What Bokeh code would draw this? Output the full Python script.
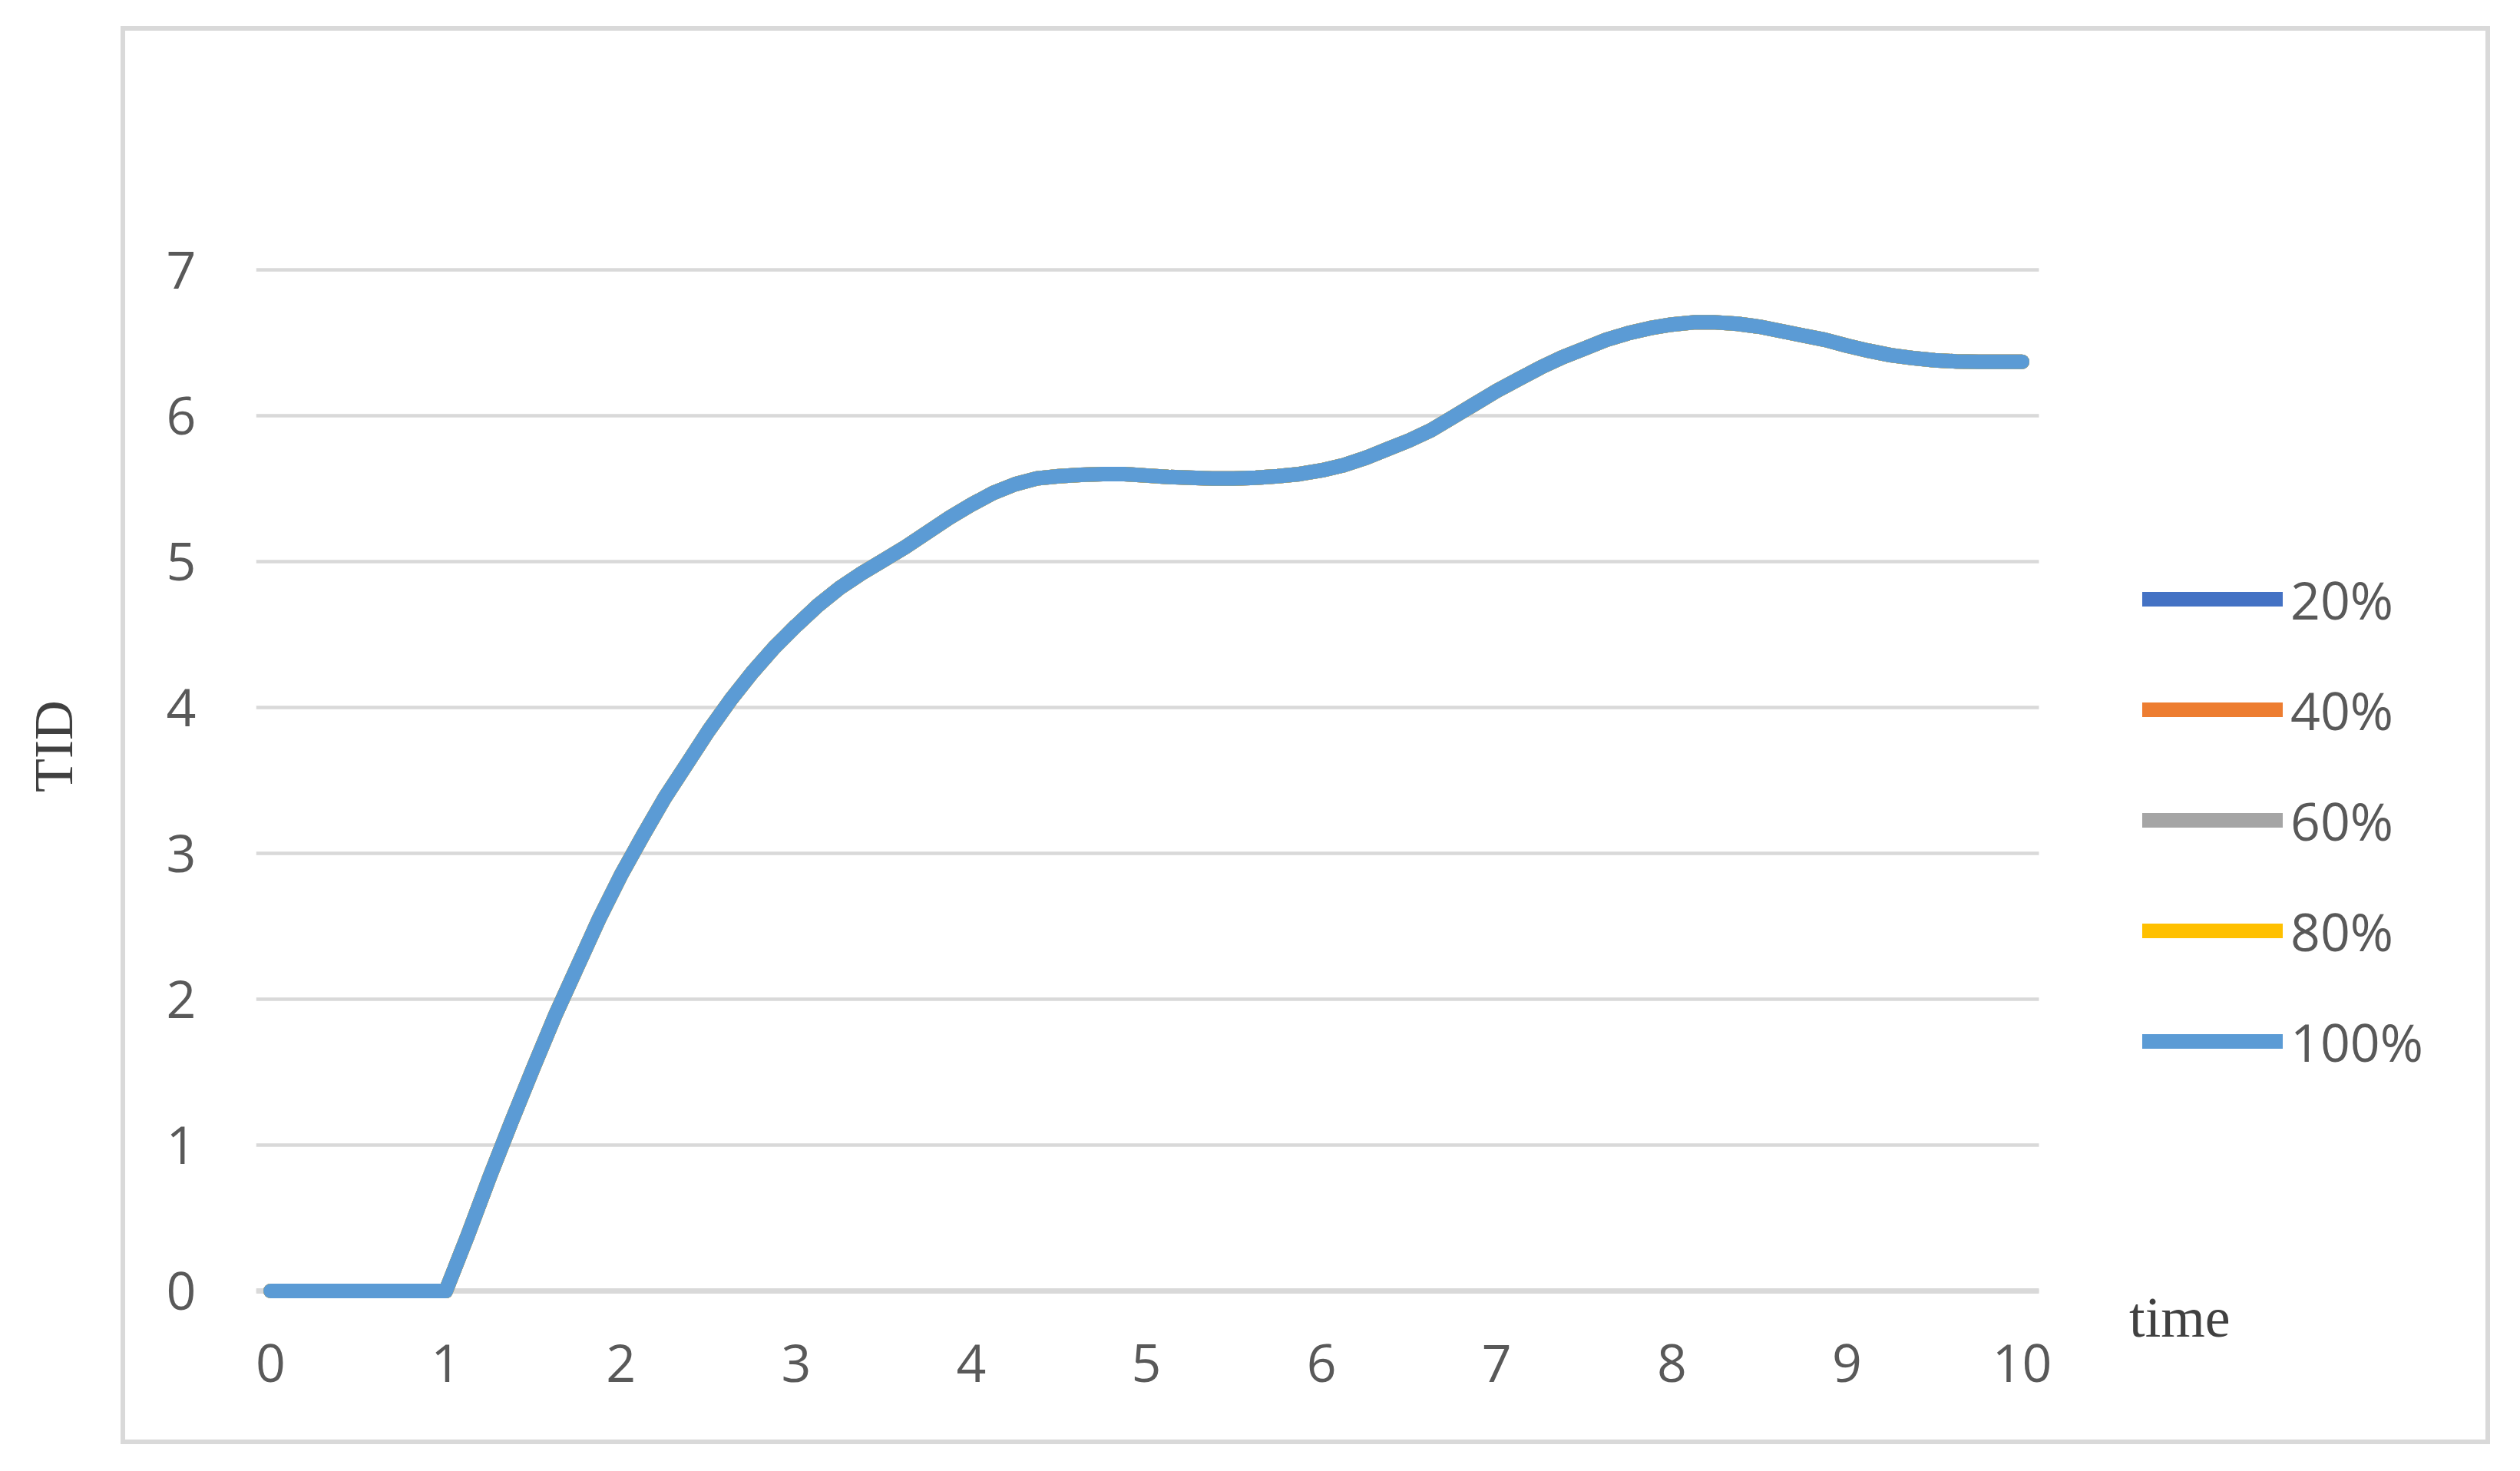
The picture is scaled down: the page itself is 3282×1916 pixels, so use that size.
from bokeh.plotting import figure
from bokeh.models import Range1d, FixedTicker, Legend, LegendItem, Label
from bokeh.embed import file_html
from bokeh.resources import INLINE

# ---------------- data ----------------
time_values = [0.0, 0.125, 0.25, 0.375, 0.5, 0.625, 0.75, 0.875,
               1.0, 1.125, 1.25, 1.375, 1.5, 1.625, 1.75, 1.875,
               2.0, 2.125, 2.25, 2.375, 2.5, 2.625, 2.75, 2.875,
               3.0, 3.125, 3.25, 3.375, 3.5, 3.625, 3.75, 3.875,
               4.0, 4.125, 4.25, 4.375, 4.5, 4.625, 4.75, 4.875,
               5.0, 5.125, 5.25, 5.375, 5.5, 5.625, 5.75, 5.875,
               6.0, 6.125, 6.25, 6.375, 6.5, 6.625, 6.75, 6.875,
               7.0, 7.125, 7.25, 7.375, 7.5, 7.625, 7.75, 7.875,
               8.0, 8.125, 8.25, 8.375, 8.5, 8.625, 8.75, 8.875,
               9.0, 9.125, 9.25, 9.375, 9.5, 9.625, 9.75, 9.875, 10.0]

tid_100 = [0, 0, 0, 0, 0, 0, 0, 0,
           0, 0.38, 0.78, 1.16, 1.53, 1.89, 2.22, 2.55,
           2.85, 3.12, 3.38, 3.61, 3.84, 4.05, 4.24, 4.41,
           4.56, 4.70, 4.82, 4.92, 5.01, 5.10, 5.20, 5.30,
           5.39, 5.47, 5.53, 5.57, 5.585, 5.595, 5.60, 5.60,
           5.59, 5.58, 5.575, 5.57, 5.57, 5.575, 5.585, 5.60,
           5.625, 5.66, 5.71, 5.77, 5.83, 5.90, 5.99, 6.08,
           6.17, 6.25, 6.33, 6.40, 6.46, 6.52, 6.565, 6.60,
           6.625, 6.64, 6.64, 6.63, 6.61, 6.58, 6.55, 6.52,
           6.48, 6.445, 6.415, 6.395, 6.38, 6.372, 6.37, 6.37, 6.37]
# the five series lie on top of one another in the reference
tid_20 = list(tid_100)
tid_40 = list(tid_100)
tid_60 = list(tid_100)
tid_80 = list(tid_100)

series_labels = ["20%", "40%", "60%", "80%", "100%"]
series_values = [tid_20, tid_40, tid_60, tid_80, tid_100]
series_colors = ["#4472C4", "#ED7D31", "#A5A5A5", "#FFC000", "#5B9BD5"]

x_ticks = [0, 1, 2, 3, 4, 5, 6, 7, 8, 9, 10]
y_ticks = [0, 1, 2, 3, 4, 5, 6, 7]

# ---------------- figure ----------------
W, H = 3266, 1900
GRID = "#D9D9D9"
border_css = ", ".join([
    f"linear-gradient({GRID},{GRID}) 157px 34px / 3086px 6px no-repeat",
    f"linear-gradient({GRID},{GRID}) 157px 1875px / 3086px 6px no-repeat",
    f"linear-gradient({GRID},{GRID}) 157px 34px / 6px 1847px no-repeat",
    f"linear-gradient({GRID},{GRID}) 3237px 34px / 6px 1847px no-repeat",
    "#FFFFFF",
])

x_start = -0.0833
x_end = 12.617
p = figure(width=W, height=H, output_backend="svg", toolbar_location=None,
           x_range=Range1d(x_start, x_end), y_range=Range1d(-0.3368, 7.805),
           min_border_left=333, min_border_right=36, min_border_top=198, min_border_bottom=155)
p.styles = {"background": border_css}
p.background_fill_alpha = 0
p.border_fill_alpha = 0
p.outline_line_color = None
p.xgrid.visible = False
p.ygrid.visible = False

TICK_FONT = "Open Sans"
TICK_COLOR = "#595959"

for ax in (p.xaxis[0], p.yaxis[0]):
    ax.axis_line_color = None
    ax.major_tick_line_color = None
    ax.minor_tick_line_color = None
    ax.major_tick_out = 0
    ax.major_tick_in = 0
    ax.major_label_text_font = TICK_FONT
    ax.major_label_text_font_size = "68px"
    ax.major_label_text_color = TICK_COLOR

p.xaxis[0].ticker = FixedTicker(ticks=x_ticks)
p.yaxis[0].ticker = FixedTicker(ticks=y_ticks)
p.xaxis[0].major_label_standoff = 5
p.yaxis[0].major_label_standoff = 78

p.yaxis[0].axis_label = "TID"
p.yaxis[0].axis_label_text_font = "Liberation Serif"
p.yaxis[0].axis_label_text_font_style = "normal"
p.yaxis[0].axis_label_text_font_size = "72px"
p.yaxis[0].axis_label_text_color = "#404040"
p.yaxis[0].axis_label_standoff = 104

# horizontal gridlines, limited to the plot area (0..10 with Excel padding)
grid_x0 = -0.0833
grid_x1 = 10.096
p.segment(x0=[grid_x0] * len(y_ticks), y0=y_ticks, x1=[grid_x1] * len(y_ticks), y1=y_ticks,
          line_color=GRID, line_width=4.5)
p.segment(x0=[grid_x0], y0=[0], x1=[grid_x1], y1=[0], line_color=GRID, line_width=7)

renderers = []
for lab, vals, col in zip(series_labels, series_values, series_colors):
    r = p.line(time_values, vals, line_color=col, line_width=19,
               line_cap="round", line_join="round")
    renderers.append((lab, r))

legend = Legend(items=[LegendItem(label=lab, renderers=[r]) for lab, r in renderers],
                location=(2457, 317), orientation="vertical",
                glyph_width=183, glyph_height=144, label_height=144, spacing=0,
                padding=0, margin=0, border_line_color=None, background_fill_alpha=0,
                label_standoff=10, label_text_font=TICK_FONT, label_text_font_size="68px",
                label_text_color=TICK_COLOR)
p.add_layout(legend)

p.add_layout(Label(x=10.90, y=-0.184, text="time", text_align="center", text_baseline="middle",
                   text_font="Liberation Serif", text_font_size="74px", text_color="#404040"))

open("out.html", "w").write(file_html(p, INLINE))
